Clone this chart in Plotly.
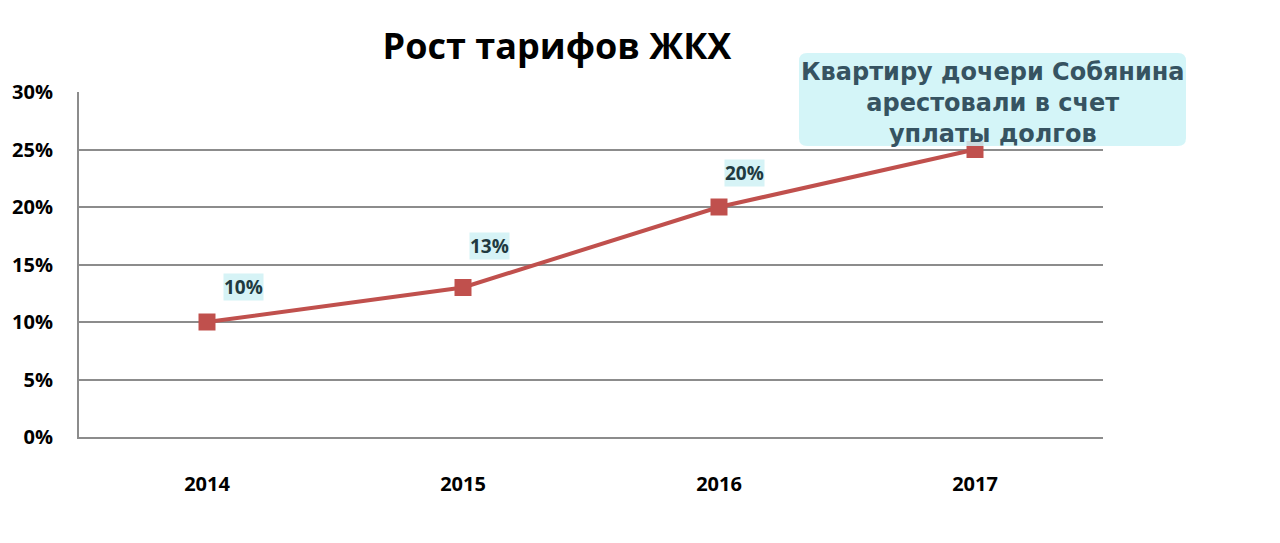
import plotly.graph_objects as go

years = ["2014", "2015", "2016", "2017"]
growth = [10, 13, 20, 25]
labels = ["10%", "13%", "20%", ""]
y_ticks = [0, 5, 10, 15, 20, 25, 30]
title = "Рост тарифов ЖКХ"
note = "Квартиру дочери Собянина<br>арестовали в счет<br>уплаты долгов"

# label pixel offsets (layout only)
label_shift = [(36, 35), (26, 42), (25, 34), (0, 0)]

FONT = "Open Sans"
OFF = 8  # page body margin
W, H = 1280 - 2 * OFF, 543 - 2 * OFF
# plot area in page pixels: x 79..1103, y 92..437
L, T = 79 - OFF, 92 - OFF
R = (OFF + W) - 1103
B = (OFF + H) - 437
pw, ph = 1024, 345

def px(xp):
    return (xp - 79) / pw

def py(yp):
    return (437 - yp) / ph

fig = go.Figure()
fig.add_trace(go.Scatter(
    x=years, y=growth, mode="lines+markers",
    line=dict(color="#c0504d", width=4),
    marker=dict(symbol="square", size=17, color="#c0504d"),
    hoverinfo="skip", showlegend=False,
))

for i, (yv, t) in enumerate(zip(growth, labels)):
    if not t:
        continue
    dx, dy = label_shift[i]
    fig.add_annotation(
        x=i, y=yv, xref="x", yref="y", text="<b>" + t + "</b>", showarrow=False,
        xanchor="center", yanchor="middle",
        xshift=dx, yshift=dy,
        font=dict(family=FONT, size=19, color="#1f3a40"),
        bgcolor="#d6f3f6", borderpad=0,
    )

# rounded note box in paper coords
x0, x1 = px(799), px(1186)
y1, y0 = py(53), py(146)
rx, ry = 8 / pw, 8 / ph
path = (f"M {x0+rx},{y0} L {x1-rx},{y0} Q {x1},{y0} {x1},{y0+ry} "
        f"L {x1},{y1-ry} Q {x1},{y1} {x1-rx},{y1} L {x0+rx},{y1} "
        f"Q {x0},{y1} {x0},{y1-ry} L {x0},{y0+ry} Q {x0},{y0} {x0+rx},{y0} Z")
fig.add_shape(type="path", path=path, xref="paper", yref="paper",
              fillcolor="rgba(205,243,247,0.85)", line=dict(width=0), layer="above")
fig.add_annotation(
    x=px(993), y=py(103), xref="paper", yref="paper",
    xanchor="center", yanchor="middle",
    text="<b>" + note + "</b>", showarrow=False,
    font=dict(family="DejaVu Sans", size=24, color="#365361"),
    align="center",
)

fig.update_layout(
    width=W, height=H,
    margin=dict(l=L, r=R, t=T, b=B, autoexpand=False),
    paper_bgcolor="white", plot_bgcolor="white",
    title=dict(text="<b>" + title + "</b>", x=(557 - OFF) / W, xanchor="center",
               y=1 - (46 - OFF) / H, yanchor="middle",
               font=dict(family=FONT, size=36, color="black")),
    xaxis=dict(
        type="category", range=[-0.5, 3.5], showgrid=False,
        showline=True, linecolor="#8c8c8c", linewidth=2,
        ticks="", ticklabelstandoff=28,
        tickfont=dict(family=FONT, size=20, color="black"),
        tickprefix="<b>", ticksuffix="</b>",
    ),
    yaxis=dict(
        range=[0, 30], tickvals=y_ticks,
        ticktext=[f"<b>{v}%</b>" for v in y_ticks],
        showgrid=True, gridcolor="#8c8c8c", gridwidth=2,
        showline=True, linecolor="#8c8c8c", linewidth=2,
        zeroline=False, ticks="", ticklabelstandoff=20,
        tickfont=dict(family=FONT, size=20, color="black"),
    ),
)

fig.write_html("out.html")
